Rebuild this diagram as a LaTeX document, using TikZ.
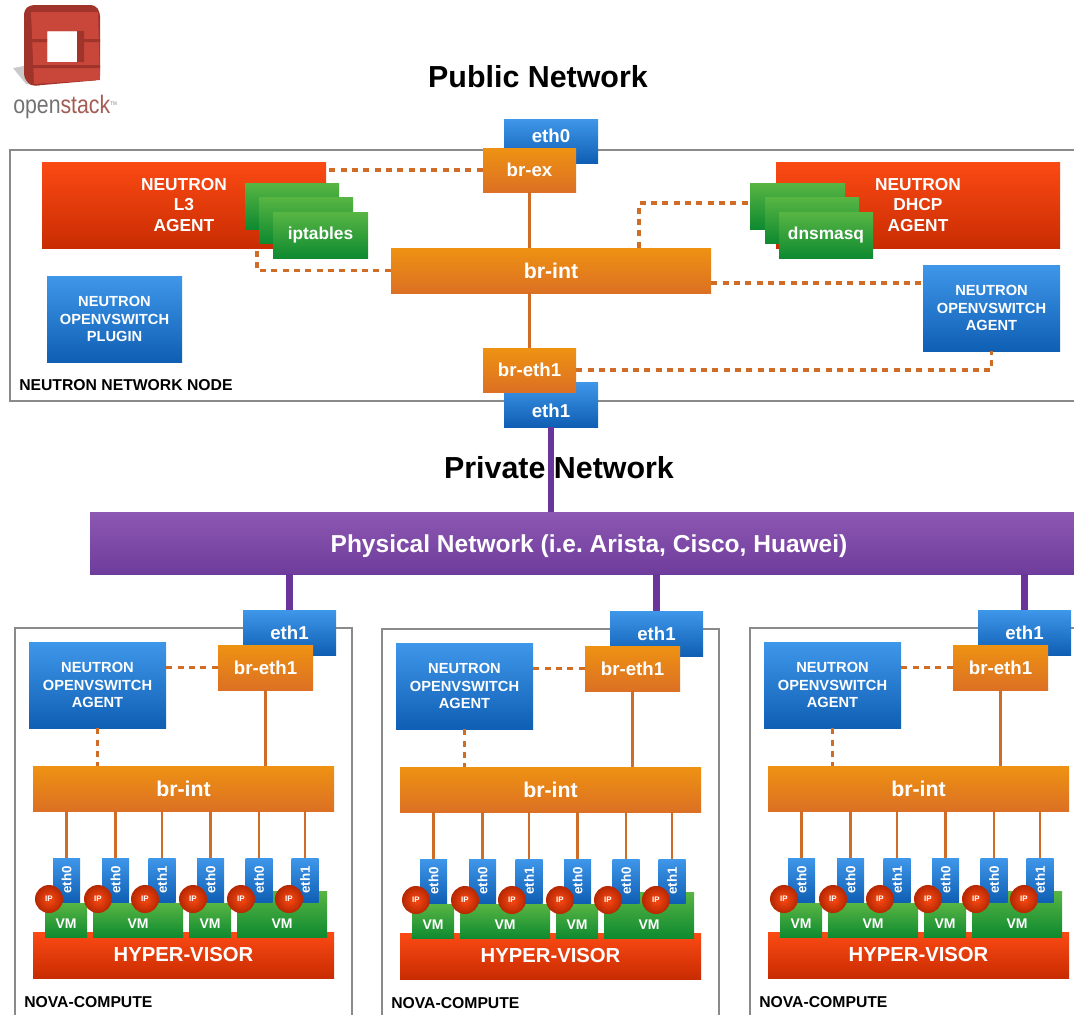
\documentclass[tikz,border=0pt]{standalone}
\usepackage{fontspec}
\setmainfont{Liberation Sans}
\usetikzlibrary{shadows}
\definecolor{nodeblue1}{HTML}{3F97EA}
\definecolor{nodeblue2}{HTML}{0F5FB4}
\definecolor{nodeorange1}{HTML}{EE9212}
\definecolor{nodeorange2}{HTML}{DC7024}
\definecolor{nodered1}{HTML}{FB4A14}
\definecolor{nodered2}{HTML}{C92C02}
\definecolor{nodegreen1}{HTML}{58B543}
\definecolor{nodegreen2}{HTML}{0E8A30}
\definecolor{nodepurple1}{HTML}{8D58B2}
\definecolor{nodepurple2}{HTML}{6E3C9C}
\definecolor{linkorange}{HTML}{CF6C28}
\definecolor{linkpurple}{HTML}{6A359A}
\definecolor{framegray}{HTML}{8A8A8A}
\definecolor{logored}{HTML}{C9473A}
\definecolor{logodark}{HTML}{A0332A}
\def\px{0.75pt}
\newcommand{\shiftlabel}[2]{\raisebox{#1}[0pt][0pt]{#2}}
\tikzset{
   x=0.75pt, y=-0.75pt,
   box/.style={rectangle, inner sep=0pt, text=white, align=center, font=\bfseries,
      drop shadow={shadow xshift=0pt, shadow yshift=-1pt, opacity=.3}},
   boxsize/.style 2 args={minimum width=#1*\px, minimum height=#2*\px},
   bluebox/.style={box, top color=nodeblue1, bottom color=nodeblue2},
   orangebox/.style={box, top color=nodeorange1, bottom color=nodeorange2},
   redbox/.style={box, top color=nodered1, bottom color=nodered2},
   greenbox/.style={box, top color=nodegreen1, bottom color=nodegreen2},
   purplebox/.style={box, top color=nodepurple1, bottom color=nodepurple2},
   ipnode/.style={circle, inner sep=0pt, minimum size=28*\px, inner color=nodered1, outer color=nodered2!90!black, text=white,
      font=\fontsize{6}{7}\selectfont\bfseries},
   link/.style={draw=linkorange, line width=2pt},
   dashlink/.style={draw=linkorange, line width=2.4pt, dash pattern=on 4.5pt off 4pt},
   purplelink/.style={draw=linkpurple, line width=5pt},
   frameline/.style={draw=framegray, line width=2pt},
   caption/.style={inner sep=0pt, anchor=west, font=\fontsize{11.8}{14}\selectfont\bfseries},
   title/.style={inner sep=0pt, font=\fontsize{22.8}{26}\selectfont\bfseries},
   agentfont/.style={font=\fontsize{11}{13}\selectfont\bfseries},
   bigfont/.style={font=\fontsize{13}{15.4}\selectfont\bfseries},
   midfont/.style={font=\fontsize{14}{16}\selectfont\bfseries},
   intfont/.style={font=\fontsize{16}{18}\selectfont\bfseries},
   vmfont/.style={font=\fontsize{10.5}{12}\selectfont\bfseries}
}
\begin{document}
\begin{tikzpicture}
   \useasboundingbox (0,0) rectangle (1074,1014);
   \fill[black!35, opacity=.6] (24,66) -- (13,68) -- (26,84) -- (40,86) -- cycle;
   \fill[logodark, rounded corners=3pt, even odd rule] (24,10) -- (30,5) -- (95,5) -- (100,12) -- (100,80) -- (31,86) -- (24,78) -- cycle
      [sharp corners] (47,31) rectangle (77,62);
   \fill[logored, even odd rule] (31,12) -- (98,12) -- (100,80) -- (34,84) -- cycle (47,31) -- (47,62) -- (77,62) -- (77,31) -- cycle;
   \fill[logodark] (26,39) rectangle (47,42) (77,39) rectangle (100,42) (26,65) rectangle (100,68) (77,31) rectangle (84,62);
   \node(logotext) at (65,107) [inner sep=0pt, xscale=.84, font=\fontsize{19}{22}\selectfont] {\textcolor{black!55}{open}\textcolor{logored!70!black!80}{stack}\raisebox{6pt}{\textcolor{black!50}{\fontsize{4}{5}\selectfont TM}}};
   \node(pubtitle) at (538,77) [title] {Public Network};
   \coordinate (netne) at (1074,150);
   \coordinate (netse) at (1074,401);
   \draw[frameline] (netne) -- (10,150) -- (10,401) -- (netse);
   \node(eth0n)[bluebox, boxsize={94}{44}, midfont] at (551,141) {\shiftlabel{-1.3pt}{eth0}};
   \node(brex)[orangebox, boxsize={93}{44}, midfont] at (529.5,170) {br-ex};
   \node(lthree)[redbox, boxsize={284}{86}, bigfont] at (184,205) {NEUTRON\\L3\\AGENT};
   \node(dhcp)[redbox, boxsize={284}{86}, bigfont] at (918,205) {NEUTRON\\DHCP\\AGENT};
   \coordinate (l3turn) at (257,248);
   \coordinate (dhcpup) at (639,203);
   \coordinate (aglink) at (923,283);
   \node(ipta)[greenbox, boxsize={94}{46}] at (292,206) {};
   \node(iptb)[greenbox, boxsize={94}{46}] at (306,220) {};
   \node(iptc)[greenbox, boxsize={95}{46}, bigfont] at (320.5,235) {iptables};
   \node(dnsa)[greenbox, boxsize={95}{46}] at (797.5,206) {};
   \node(dnsb)[greenbox, boxsize={94}{46}] at (812,220) {};
   \node(dnsc)[greenbox, boxsize={94}{46}, bigfont] at (826,235) {dnsmasq};
   \node(brint)[orangebox, boxsize={320}{45}, intfont] at (551,270.5) {br-int};
   \node(plugin)[bluebox, boxsize={135}{86}, agentfont] at (114.5,319) {NEUTRON\\OPENVSWITCH\\PLUGIN};
   \node(agentn)[bluebox, boxsize={137}{86}, agentfont] at (991.5,308) {NEUTRON\\OPENVSWITCH\\AGENT};
   \node(eth1n)[bluebox, boxsize={94}{45}, midfont] at (551,404.5) {\shiftlabel{-9.9pt}{eth1}};
   \node(breth)[orangebox, boxsize={93}{44}, midfont] at (529.5,370) {br-eth1};
   \node(netcap)[caption] at (19,385) {NEUTRON NETWORK NODE};
   \draw[dashlink] (brex.west) -- (brex.west -| lthree.east);
   \draw[dashlink] (brint.west) -| (l3turn);
   \draw[dashlink] (brint.north -| dhcpup) -- (dhcpup) -- (dhcpup -| dnsa.west);
   \draw[dashlink] (aglink -| brint.east) -- (aglink);
   \draw[dashlink] (breth.east) -| (agentn.south);
   \draw[link] (brex.south) -- (brex.south |- brint.north);
   \draw[link] (breth.north) -- (breth.north |- brint.south);
   \node(privtitle) at (559,468) [title] {Private Network};
   \node(phys)[purplebox, boxsize={984}{62}, font=\fontsize{18.4}{21}\selectfont\bfseries] at (582,543) {\frenchspacing\hspace{10.5pt}\shiftlabel{-6.8pt}{Physical Network (i.e. Arista, Cisco, Huawei)}};
   \draw[purplelink] (eth1n.south) -- (eth1n.south |- phys.north);
   \foreach \i/\dx/\dy in {1/0/0,2/367/1,3/735/0} {
      \begin{scope}[shift={(\dx,\dy)}]
         \coordinate (fnw\i) at (15,628);
         \coordinate (fsw\i) at (15,1016);
         \coordinate (fne\i) at (352,628);
         \coordinate (fse\i) at (352,1016);
         \draw[frameline] (fsw\i) -- (fnw\i) -- (fne\i) -- (fse\i);
         \node(eth\i)[bluebox, boxsize={93}{45}, midfont] at (289.5,632.5) {eth1};
         \draw[purplelink] (eth\i.north) -- (eth\i.north |- phys.south);
         \node(breth\i)[orangebox, boxsize={95}{45}, midfont] at (265.5,667.5) {br-eth1};
         \node(agent\i)[bluebox, boxsize={137}{86}, agentfont] at (97.5,685) {NEUTRON\\OPENVSWITCH\\AGENT};
         \node(brint\i)[orangebox, boxsize={301}{45}, intfont] at (183.5,788.5) {br-int};
         \node(hyper\i)[redbox, boxsize={301}{46}, font=\fontsize{15.2}{18}\selectfont\bfseries] at (183.5,955) {HYPER-VISOR};
         \draw[dashlink] (breth\i.west) -- (breth\i.west -| agent\i.east);
         \draw[dashlink] (agent\i.south) -- (agent\i.south |- brint\i.north);
         \draw[link] (breth\i.south) -- (breth\i.south |- brint\i.north);
         \node(vma\i)[greenbox, boxsize={42}{34}, vmfont] at (66,920) {\shiftlabel{-6pt}{VM}};
         \node(vmb\i)[greenbox, boxsize={90}{34}, vmfont] at (138,920) {\shiftlabel{-6pt}{VM}};
         \node(vmc\i)[greenbox, boxsize={42}{34}, vmfont] at (210,920) {\shiftlabel{-6pt}{VM}};
         \node(vmd\i)[greenbox, boxsize={90}{46}, vmfont] at (282,914) {\shiftlabel{-10.5pt}{VM}};
         \foreach \t/\tx/\tlab/\ipx in {a/66.5/eth0/49,b/115.5/eth0/98,c/162/eth1/145,d/210.5/eth0/193,e/259/eth0/241,f/305/eth1/289} {
            \node(tab\t\i)[bluebox, boxsize={27}{44}, font=\fontsize{10}{12}\selectfont\bfseries] at (\tx,880) {\rotatebox{90}{\tlab}};
            \draw[link] (tab\t\i.north) -- (tab\t\i.north |- brint\i.south);
            \node(ip\t\i)[ipnode] at (\ipx,899) {IP};
         }
         \node(novacap\i)[caption] at (24,1002) {NOVA-COMPUTE};
      \end{scope}
   }
\end{tikzpicture}
\end{document}
